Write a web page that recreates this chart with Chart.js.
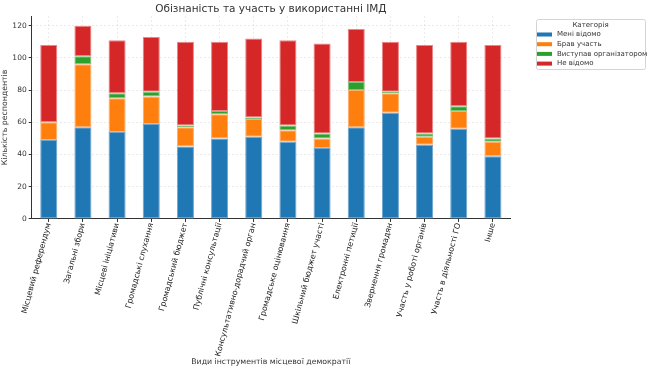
<!DOCTYPE html>
<html>
<head>
<meta charset="utf-8">
<script src="https://cdn.jsdelivr.net/npm/chart.js@4.4.0/dist/chart.umd.min.js"></script>
<style>
  html, body { margin: 0; padding: 0; background: #fff; }
  #wrap { width: 648px; height: 369px; }
</style>
</head>
<body>
<div id="wrap"><canvas id="myChart"></canvas></div>
<script>
const categories = [
  'Місцевий референдум', 'Загальні збори', 'Місцеві ініціативи', 'Громадські слухання',
  'Громадський бюджет', 'Публічні консультації', 'Консультативно-дорадчий орган',
  'Громадське оцінювання', 'Шкільний бюджет участі', 'Електронні петиції',
  'Звернення громадян', 'Участь у роботі органів', 'Участь в діяльності ГО', 'Інше'
];
const knowLess = [49, 57, 54, 59, 45, 50, 51, 48, 44, 57, 66, 46, 56, 39];
const tookPart = [11, 39, 21, 17, 12, 15, 11, 7, 6, 23, 12, 5, 11, 9];
const organizer = [0, 5, 3, 3, 1, 2, 1, 3, 3, 5, 1, 2, 3, 2];
const unknown = [48, 19, 33, 34, 52, 43, 49, 53, 56, 33, 31, 55, 40, 58];
const yTicks = [0, 20, 40, 60, 80, 100, 120];

const titleText = 'Обізнаність та участь у використанні ІМД';
const legendTitle = 'Категорія';
const font = '"DejaVu Sans"';

// title over the plot area and a boxed legend on the right
const extras = {
  id: 'extras',
  afterDraw(chart) {
    const c = chart.ctx;
    const a = chart.chartArea;
    c.save();
    c.fillStyle = '#333';
    c.font = '10.5px ' + font;
    c.textAlign = 'center';
    c.textBaseline = 'middle';
    c.fillText(titleText, (a.left + a.right) / 2, 9);

    const bx = 536, by = 19, bw = 109, bh = 50;
    c.fillStyle = 'rgba(255,255,255,0.9)';
    c.strokeStyle = '#d4d4d4';
    c.lineWidth = 1;
    c.beginPath();
    c.roundRect(bx + 0.5, by + 0.5, bw, bh, 2);
    c.fill();
    c.stroke();

    c.fillStyle = '#333';
    c.font = '7px ' + font;
    c.fillText(legendTitle, bx + bw / 2, 25);
    c.textAlign = 'left';
    chart.data.datasets.forEach((d, i) => {
      const y = 34.5 + i * 9.7;
      c.fillStyle = d.backgroundColor;
      c.fillRect(bx + 1, y - 2, 15, 4);
      c.fillStyle = '#333';
      c.fillText(d.label, bx + 21, y);
    });
    c.restore();
  }
};

const ctx = document.getElementById('myChart');

function ds(label, data, color, edge) {
  return {
    label: label,
    data: data,
    backgroundColor: color,
    borderColor: edge,
    borderWidth: 1,
    borderSkipped: false,
    barPercentage: 0.5,
    categoryPercentage: 1.0
  };
}

new Chart(ctx, {
  type: 'bar',
  data: {
    labels: categories,
    datasets: [
      ds('Менi відомо', knowLess, '#1f77b4', '#6fa6cf'),
      ds('Брав участь', tookPart, '#ff7f0e', '#ffad6a'),
      ds('Виступав організатором', organizer, '#2ca02c', '#7ec47e'),
      ds('Не відомо', unknown, '#d62728', '#ea8586')
    ]
  },
  options: {
    responsive: true,
    maintainAspectRatio: false,
    animation: false,
    layout: { padding: { top: 16, right: 138, left: 0, bottom: 2 } },
    plugins: {
      title: { display: false },
      tooltip: { enabled: false },
      legend: { display: false }
    },
    scales: {
      x: {
        stacked: true,
        z: 1,
        offset: true,
        grid: { offset: false, color: 'rgba(0,0,0,0.08)', tickLength: 3, tickColor: '#333' },
        border: { color: '#333', width: 1, dash: [2, 2] },
        ticks: {
          autoSkip: false,
          maxRotation: 75,
          minRotation: 75,
          padding: 0,
          color: '#222',
          font: { size: 7.9, family: 'DejaVu Sans' }
        },
        title: {
          display: true,
          text: 'Види інструментів місцевої демократії',
          color: '#333',
          padding: { top: 0, bottom: 0 },
          font: { size: 7.8, family: 'DejaVu Sans' }
        }
      },
      y: {
        stacked: true,
        min: 0,
        max: 126,
        afterBuildTicks: axis => { axis.ticks = yTicks.map(v => ({ value: v })); },
        grid: { color: 'rgba(0,0,0,0.08)', tickLength: 3, tickColor: '#333' },
        border: { color: '#333', width: 1, dash: [2, 2] },
        ticks: {
          padding: 2,
          color: '#333',
          font: { size: 7.5, family: 'DejaVu Sans' }
        },
        title: {
          display: true,
          text: 'Кількість респондентів',
          color: '#333',
          padding: { top: 0, bottom: 1 },
          font: { size: 7.8, family: 'DejaVu Sans' }
        }
      }
    }
  },
  plugins: [extras]
});
</script>
</body>
</html>
